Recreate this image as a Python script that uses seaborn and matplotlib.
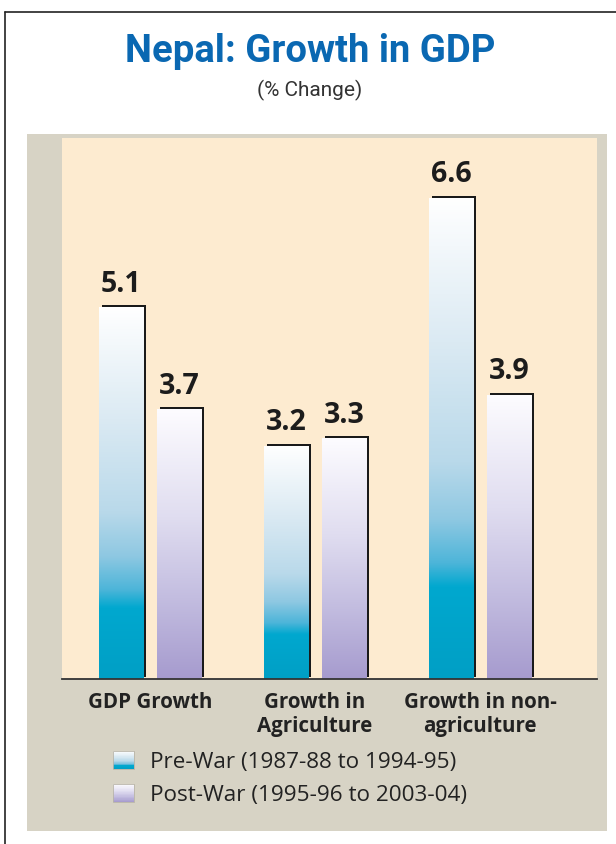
import numpy as np
import pandas as pd
import matplotlib
matplotlib.use("Agg")
import matplotlib.pyplot as plt
import seaborn as sns
from matplotlib.colors import LinearSegmentedColormap
from matplotlib.patches import Rectangle, Patch
from matplotlib.lines import Line2D
from matplotlib.transforms import ScaledTranslation
from matplotlib.legend_handler import HandlerBase

# ---------------- data ----------------
categories = ["GDP Growth", "Growth in\nAgriculture", "Growth in non-\nagriculture"]
pre_war = [5.1, 3.2, 6.6]
post_war = [3.7, 3.3, 3.9]
series_names = ["Pre-War (1987-88 to 1994-95)", "Post-War (1995-96 to 2003-04)"]
title = "Nepal: Growth in GDP"
subtitle = "(% Change)"

df = pd.DataFrame({
    "category": categories * 2,
    "value": pre_war + post_war,
    "period": [series_names[0]] * len(categories) + [series_names[1]] * len(categories),
})

# ---------------- style ----------------
sns.set_theme(style="white")
plt.rcParams['font.family'] = ['Open Sans', 'DejaVu Sans']

cm_pre = LinearSegmentedColormap.from_list("pre", [
    (0.00, "#009fc5"), (0.19, "#00a8cf"), (0.24, "#4db5d9"), (0.33, "#8ec8e2"),
    (0.45, "#b9d9ea"), (0.70, "#dbeaf3"), (1.00, "#ffffff")])
cm_post = LinearSegmentedColormap.from_list("post", [
    (0.00, "#a69bce"), (0.30, "#c3bde0"), (0.60, "#e0ddf0"), (1.00, "#fdfcff")])
cmaps = [cm_pre, cm_post]

W, H = 616, 844
fig = plt.figure(figsize=(W / 100, H / 100), dpi=100)
fig.patch.set_facecolor("white")

# outer frame lines (left and top)
fig.add_artist(Line2D([5 / W, 5 / W], [0, 1 - 12 / H], transform=fig.transFigure, color="#222222", lw=1.2))
fig.add_artist(Line2D([5 / W, 1], [1 - 12 / H, 1 - 12 / H], transform=fig.transFigure, color="#222222", lw=1.2))
# gray panel
fig.add_artist(Rectangle((27 / W, (H - 831) / H), (607 - 27) / W, (831 - 134) / H,
                         transform=fig.transFigure, facecolor="#d7d3c5", edgecolor="none", zorder=0))

ax = fig.add_axes([62 / W, (H - 679) / H, (597 - 62) / W, (679 - 138) / H])
ax.set_facecolor("#fdebd0")

sns.barplot(data=df, x="category", y="value", hue="period", ax=ax,
            width=0.703, gap=0.24, legend=False, saturation=1)

shadow_offset = ScaledTranslation(3 / 100, 2 / 100, fig.dpi_scale_trans)
grad = np.linspace(0, 1, 256).reshape(-1, 1)
for cont, cmap in zip(ax.containers, cmaps):
    for p in cont.patches:
        x0, w, h = p.get_x(), p.get_width(), p.get_height()
        shadow = Rectangle((x0, 0), w, h, transform=ax.transData + shadow_offset,
                           facecolor="#1a1a1a", edgecolor="none", zorder=1)
        ax.add_patch(shadow)
        im = ax.imshow(grad, cmap=cmap, origin="lower", aspect="auto",
                       extent=[x0, x0 + w, 0, h], zorder=2, interpolation="bilinear")
        im.set_clip_path(p)
        p.set_facecolor("none")
        p.set_edgecolor("none")
        p.set_zorder(3)
    ax.bar_label(cont, fmt="%.1f", padding=6, fontsize=20.5, fontweight="bold",
                 color="#1c1c1c", zorder=4)

ax.set_xlim(-0.533, 2.709)
ax.set_ylim(0, 7.42)
ax.set_xlabel("")
ax.set_ylabel("")
ax.set_yticks([])
for s in ["top", "right", "left"]:
    ax.spines[s].set_visible(False)
ax.spines["bottom"].set_color("#333333")
ax.spines["bottom"].set_linewidth(1.3)
ax.tick_params(axis="x", length=0, pad=9)
for lbl in ax.get_xticklabels():
    lbl.set_fontsize(14.8)
    lbl.set_fontweight("bold")
    lbl.set_color("#222222")
    lbl.set_linespacing(1.2)

# titles
fig.text(310 / W, 1 - 52 / H, title, ha="center", va="center", fontsize=27.5,
         fontweight="bold", color="#0a68b2", family=["Roboto", "DejaVu Sans"])
fig.text(310 / W, 1 - 90 / H, subtitle, ha="center", va="center", fontsize=15,
         color="#333333", family=["Roboto", "DejaVu Sans"])


class GradHandler(HandlerBase):
    def __init__(self, cmap):
        super().__init__()
        self.cmap = cmap

    def create_artists(self, legend, orig_handle, xdescent, ydescent, width, height, fontsize, trans):
        n = 30
        arts = []
        for i in range(n):
            frac = (i + 0.5) / n
            r = Rectangle((-xdescent, -ydescent + i * height / n), width, height / n * 1.05,
                          facecolor=self.cmap(frac), edgecolor="none", transform=trans)
            arts.append(r)
        arts.append(Rectangle((-xdescent, -ydescent), width, height, facecolor="none",
                              edgecolor="#b8b4a8", lw=0.6, transform=trans))
        return arts


h1 = Patch(label=series_names[0])
h2 = Patch(label=series_names[1])
fig.legend(handles=[h1, h2], labels=series_names,
           handler_map={h1: GradHandler(cm_pre), h2: GradHandler(cm_post)},
           loc="upper left", bbox_to_anchor=(113 / W, 1 - 751 / H), frameon=False,
           borderpad=0, borderaxespad=0, fontsize=16.2, handlelength=0.95, handleheight=0.85,
           handletextpad=0.7, labelspacing=0.5, labelcolor="#222222")

fig.savefig("out.png", dpi=100, facecolor=fig.get_facecolor())
